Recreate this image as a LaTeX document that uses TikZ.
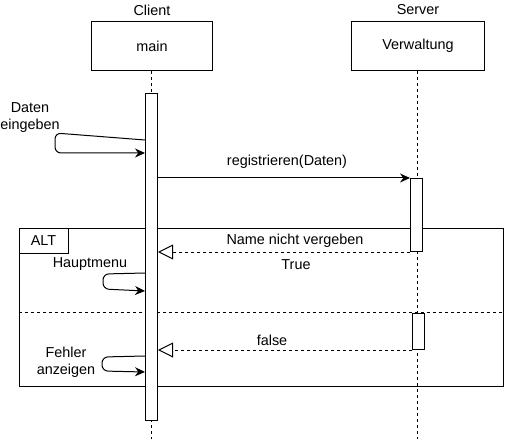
\documentclass[tikz,border=0pt]{standalone}
\usepackage{fontspec}
\setmainfont{Liberation Sans}
\usetikzlibrary{arrows.meta}
\begin{document}
\begin{tikzpicture}[x=1bp,y=-1bp, line width=1bp,
  lbl/.style={font=\fontsize{14.4bp}{17bp}\selectfont, inner sep=0, align=center},
  lifebox/.style={draw, minimum height=49bp, inner sep=0, font=\fontsize{14.4bp}{17bp}\selectfont},
  bar/.style={draw, fill=white, inner sep=0, minimum width=12bp},
  lifeline/.style={dash pattern=on 3bp off 3bp},
  msg/.style={-{Stealth[length=10bp,width=9bp]}},
  ret/.style={dash pattern=on 3bp off 3bp, -{Triangle[open,length=15bp,width=15bp]}},
  selfmsg/.style={rounded corners=6bp, -{Stealth[length=10bp,width=9bp]}},
  frame/.style={draw, inner sep=0}
]
\useasboundingbox (0,0) rectangle (530,439);

% headings
\node[lbl] (clientlbl) at (152,10) {Client};
\node[lbl] (serverlbl) at (418,10) {Server};

% lifeline boxes
\node[lifebox, minimum width=121bp] (main) at (152,46) {main};
\node[lifebox, minimum width=133bp] (verw) at (418,46) {Verwaltung};

% lifelines
\coordinate (cend) at (151.5,439);
\coordinate (send) at (417.5,439);
\draw[lifeline] (main.south -| cend) -- (cend);
\draw[lifeline] (verw.south -| send) -- (send);

% ALT frame
\node[frame, minimum width=484bp, minimum height=157bp, anchor=north west] (alt) at (18.5,228.5) {};
\node[frame, minimum width=49bp, minimum height=24bp, anchor=north west, font=\fontsize{14.4bp}{17bp}\selectfont] (altlbl) at (18.5,228.5) {ALT};
\coordinate (sepL) at (18.5,312.5);
\coordinate (sepR) at (502.5,312.5);
\draw[lifeline] (sepL) -- (sepR);

% activation bars
\node[bar, minimum height=327bp] (cbar) at (151.5,257) {};
\node[bar, minimum height=73bp] (sbar1) at (416.5,215) {};
\node[bar, minimum height=36bp] (sbar2) at (418.5,331.5) {};

% messages
\draw[msg] (cbar.east |- sbar1.north) -- (sbar1.north west);
\node[lbl] (m1) at (287,162) {registrieren(Daten)};

\draw[ret] (sbar1.south west) -- (cbar.east |- sbar1.south);
\node[lbl] (m2) at (295,241) {Name nicht vergeben};
\node[lbl] (m2b) at (296,265) {True};

\draw[ret] (sbar2.south west) -- (cbar.east |- sbar2.south);
\node[lbl] (m3) at (272,340) {false};

% self messages
\draw[selfmsg] (cbar.west |- 0,140) -- (55,133) -- (55,153) -- (cbar.west |- 0,153);
\node[lbl] (s1) at (30,118) {Daten\\eingeben};

\draw[selfmsg] (cbar.west |- 0,273) -- (103,274) -- (103,289) -- (cbar.west |- 0,291);
\node[lbl] (s2) at (90,264) {Hauptmenu};

\draw[selfmsg] (cbar.west |- 0,356) -- (102,357) -- (102,371) -- (cbar.west |- 0,372);
\node[lbl] (s3) at (66,362) {Fehler\\anzeigen};
\end{tikzpicture}
\end{document}
